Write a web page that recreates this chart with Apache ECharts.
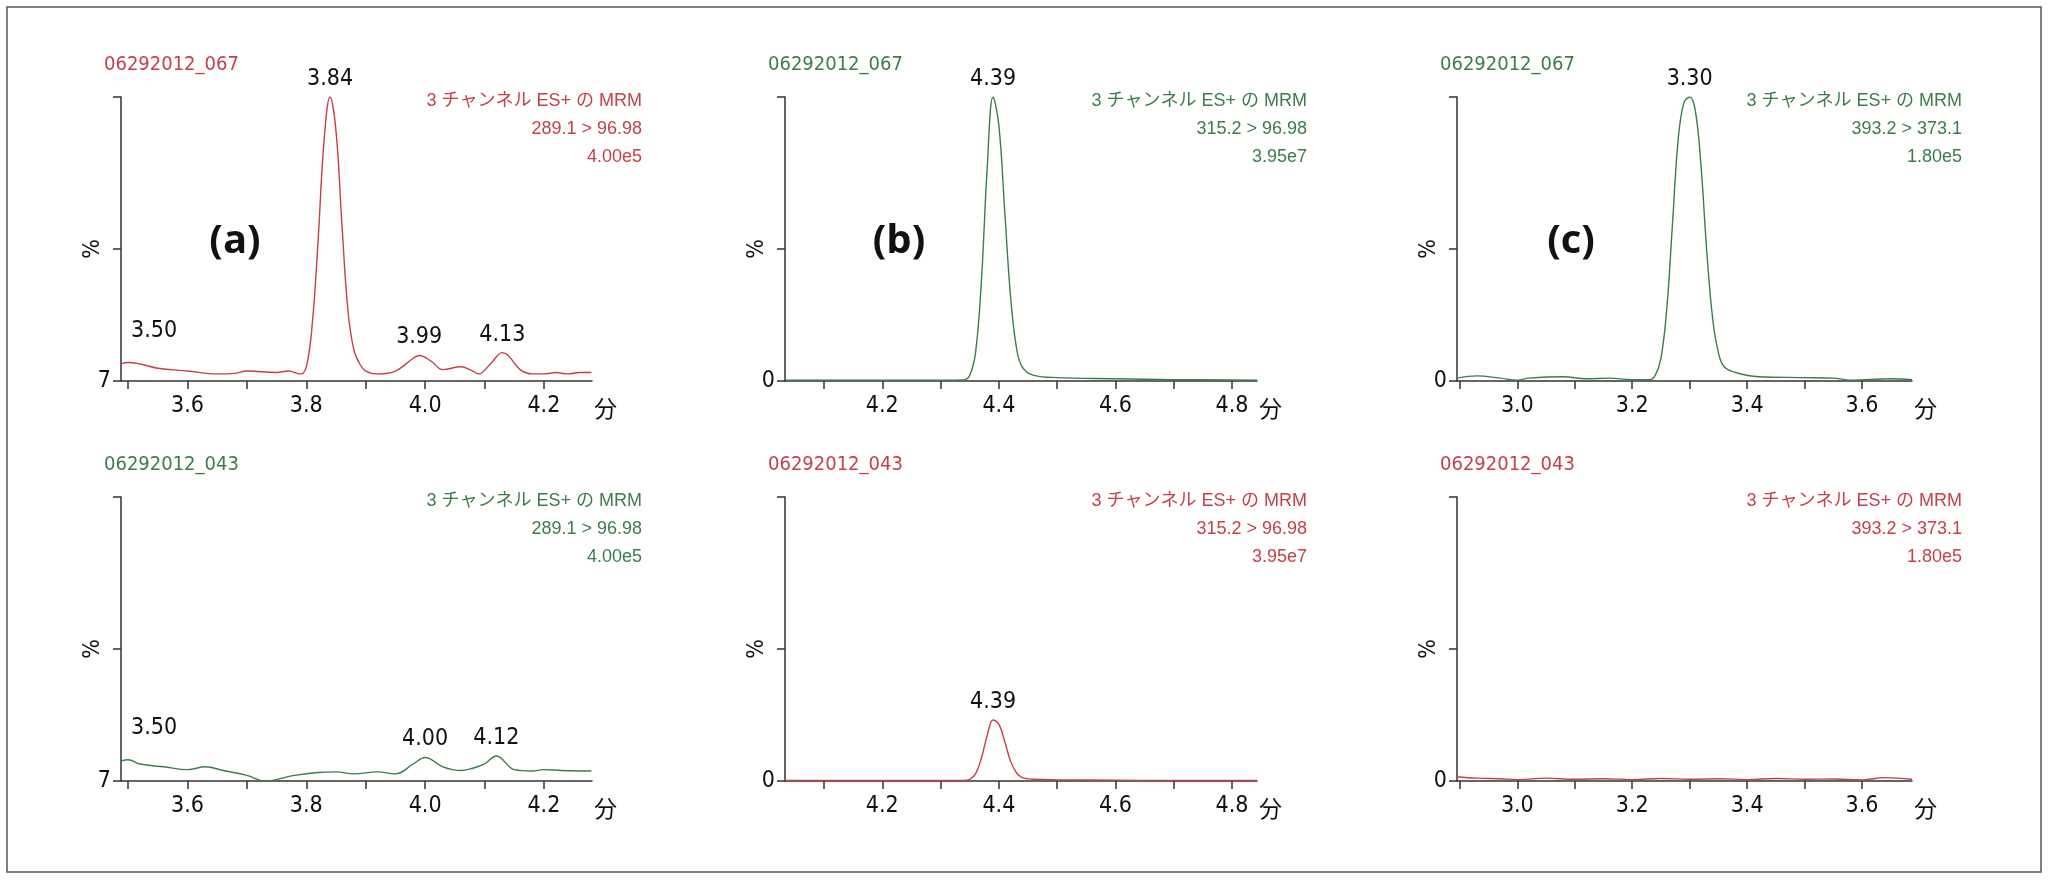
<!DOCTYPE html>
<html><head><meta charset="utf-8">
<script src="https://cdn.jsdelivr.net/npm/echarts@6/dist/echarts.min.js"></script>
<style>html,body{margin:0;padding:0;background:#fff}#c{width:2048px;height:882px}</style>
</head><body><div id="c"></div>
<script>
const RED = '#c2414b', GREEN = '#3a7d4c';
// Panel (a) top: 289.1 > 96.98, sample 067
const aTopT = [3.488,3.50,3.52,3.55,3.60,3.65,3.68,3.70,3.75,3.77,3.79,3.80,3.81,3.82,3.83,3.84,3.85,3.86,3.87,3.88,3.89,3.90,3.92,3.95,3.98,3.99,4.01,4.03,4.06,4.08,4.09,4.11,4.13,4.14,4.16,4.18,4.20,4.22,4.24,4.26,4.28];
const aTopV = [6,6.5,6,4.5,3.5,2.5,2.7,3.5,3,3.5,2.5,5,20,50,85,100,88,55,25,11,6,3.5,2.5,3.5,8,9,7,4,5,3.5,2.5,6,10,9,4,2.5,2.5,3,2.5,3,3];
// Panel (a) bottom: sample 043
const aBotT = [3.488,3.50,3.52,3.56,3.60,3.63,3.66,3.70,3.73,3.78,3.82,3.85,3.88,3.92,3.95,3.98,4.00,4.03,4.06,4.08,4.10,4.12,4.15,4.18,4.20,4.23,4.28];
const aBotV = [7,7.5,6,5,4,5,3.7,2,0,2,3,3.2,2.5,3.2,2.5,6,8.3,5,3.7,4.5,6,8.8,4,3.5,4,3.7,3.5];
// Panel (b) top: 315.2 > 96.98
const bTopT = [4.033,4.10,4.20,4.30,4.34,4.35,4.36,4.37,4.38,4.39,4.40,4.41,4.42,4.43,4.44,4.46,4.50,4.60,4.70,4.843];
const bTopV = [0.3,0.3,0.3,0.3,0.4,2,10,35,75,100,90,60,30,12,5,2,1.2,0.8,0.5,0.3];
// Panel (b) bottom
const bBotT = [4.033,4.10,4.20,4.30,4.34,4.35,4.36,4.37,4.38,4.39,4.40,4.41,4.42,4.43,4.44,4.46,4.50,4.60,4.70,4.843];
const bBotV = [0.2,0.2,0.2,0.2,0.2,0.6,2.5,8,16,21.5,20,14,7,3,1.2,0.6,0.4,0.3,0.2,0.2];
// Panel (c) top: 393.2 > 373.1
const cTopT = [2.895,2.93,2.97,3.00,3.02,3.08,3.12,3.16,3.20,3.23,3.24,3.25,3.26,3.27,3.28,3.29,3.30,3.31,3.32,3.33,3.34,3.35,3.36,3.38,3.42,3.50,3.55,3.58,3.65,3.687];
const cTopV = [1,1.8,1,0.3,1,1.5,0.8,1,0.5,0.5,2,8,25,55,85,98,100,95,75,45,22,10,5,3,1.5,1.2,1,0.3,0.8,0.5];
// Panel (c) bottom
const cBotT = [2.895,2.93,2.97,3.00,3.05,3.10,3.15,3.20,3.25,3.30,3.35,3.40,3.45,3.50,3.55,3.60,3.64,3.687];
const cBotV = [1.5,1,0.8,0.5,1,0.6,0.8,0.5,0.9,0.6,0.8,0.5,0.9,0.6,0.7,0.4,1.2,0.6];

const sampleTop = '06292012_067', sampleBot = '06292012_043';
const transitions = ['289.1 > 96.98','315.2 > 96.98','393.2 > 373.1'];
const intensities = ['4.00e5','3.95e7','1.80e5'];
const channelText = '3 チャンネル ES+ の MRM';
const panelTags = ['(a)','(b)','(c)'];
const xLabelVals = [[3.6,3.8,4.0,4.2],[4.2,4.4,4.6,4.8],[3.0,3.2,3.4,3.6]];
const xTickVals = [[3.5,3.6,3.7,3.8,3.9,4.0,4.1,4.2],[4.1,4.2,4.3,4.4,4.5,4.6,4.7,4.8],[2.9,3.0,3.1,3.2,3.3,3.4,3.5,3.6]];
const xRanges = [[3.488,4.281],[4.033,4.843],[2.895,3.687]];
const yZeroLabel = ['7','0','0'];
// peak annotations [panel,row,x,y,text]
const peaks = [[0,0,3.84,100,'3.84'],[0,0,3.99,9,'3.99'],[0,0,4.13,10,'4.13'],[0,0,3.50,6.5,'3.50'],
  [0,1,4.00,8.3,'4.00'],[0,1,4.12,8.8,'4.12'],[0,1,3.50,7.5,'3.50'],
  [1,0,4.39,100,'4.39'],[1,1,4.39,21.5,'4.39'],[2,0,3.30,100,'3.30']];

const FONT = '"DejaVu Sans Condensed","Liberation Sans Narrow","Noto Sans CJK JP",sans-serif';
const JP = '"Liberation Sans","Noto Sans CJK JP",sans-serif';
const lefts = [121,785,1457], rights = [592,1257,1912];
const tops = [97,497], bottoms = [381,781];
const seriesData = [[[aTopT,aTopV,RED],[aBotT,aBotV,GREEN]],[[bTopT,bTopV,GREEN],[bBotT,bBotV,RED]],[[cTopT,cTopV,GREEN],[cBotT,cBotV,RED]]];

const grid=[],xAxis=[],yAxis=[],series=[],graphic=[];
graphic.push({type:'rect',shape:{x:7,y:7,width:2034,height:865},style:{fill:'none',stroke:'#555',lineWidth:1.5}});
for(let p=0;p<3;p++){
  for(let r=0;r<2;r++){
    const i=grid.length;
    grid.push({left:lefts[p],top:tops[r],width:rights[p]-lefts[p],height:bottoms[r]-tops[r]});
    xAxis.push({type:'value',gridIndex:i,min:xRanges[p][0],max:xRanges[p][1],
      axisLine:{lineStyle:{color:'#333',width:1.5}},splitLine:{show:false},
      axisTick:{length:8,lineStyle:{color:'#333',width:1.5},customValues:xTickVals[p]},
      axisLabel:{customValues:xLabelVals[p],color:'#111',fontSize:23,fontFamily:FONT,margin:14,formatter:v=>v.toFixed(1)}});
    yAxis.push({type:'value',gridIndex:i,min:0,max:100,
      axisLine:{show:true,lineStyle:{color:'#333',width:1.5}},splitLine:{show:false},
      axisTick:{show:true,length:8,lineStyle:{color:'#333',width:1.5},customValues:[0,46.5,100]},
      axisLabel:{customValues:[0],color:'#111',fontSize:23,fontFamily:FONT,margin:10,formatter:()=>yZeroLabel[p]}});
    const [T,V,col]=seriesData[p][r];
    const mp = peaks.filter(k=>k[0]===p&&k[1]===r).map(k=>({coord:[k[2],k[3]],value:k[4],
      label:{offset:k[4]==='3.50'?[26,-14]:[0,0]}}));
    series.push({type:'line',xAxisIndex:i,yAxisIndex:i,data:T.map((t,j)=>[t,V[j]]),smooth:0.4,showSymbol:false,
      lineStyle:{color:col,width:1.4},silent:true,
      markPoint:{symbol:'circle',symbolSize:1,itemStyle:{color:'rgba(0,0,0,0)'},
        label:{show:true,position:'top',distance:6,color:'#111',fontSize:23,fontFamily:FONT,formatter:d=>d.value},data:mp}});
    const col2 = r===0?(p===0?RED:GREEN):(p===0?GREEN:RED);
    graphic.push({type:'text',left:lefts[p]-17,top:tops[r]-42,style:{text:r===0?sampleTop:sampleBot,fill:col2,font:'20px '+FONT}});
    [channelText,transitions[p],intensities[p]].forEach((s,k)=>graphic.push({type:'text',
      x:rights[p]+50,y:tops[r]+4+k*28,style:{text:s,fill:col2,font:'18px '+JP,align:'right',verticalAlign:'middle'}}));
    graphic.push({type:'text',x:lefts[p]-28,y:tops[r]+152,rotation:Math.PI/2,style:{text:'%',fill:'#111',font:'23px '+FONT,align:'center',verticalAlign:'middle'}});
    graphic.push({type:'text',x:rights[p]+2,y:bottoms[r]+27,style:{text:'分',fill:'#111',font:'23px "Noto Sans CJK JP"',verticalAlign:'middle'}});
  }
  graphic.push({type:'text',x:lefts[p]+114,y:242,style:{text:panelTags[p],fill:'#111',font:'bold 40px "Open Sans",sans-serif',align:'center',verticalAlign:'middle'}});
}
const chart=echarts.init(document.getElementById('c'));
chart.setOption({animation:false,grid,xAxis,yAxis,series,graphic});
</script></body></html>
